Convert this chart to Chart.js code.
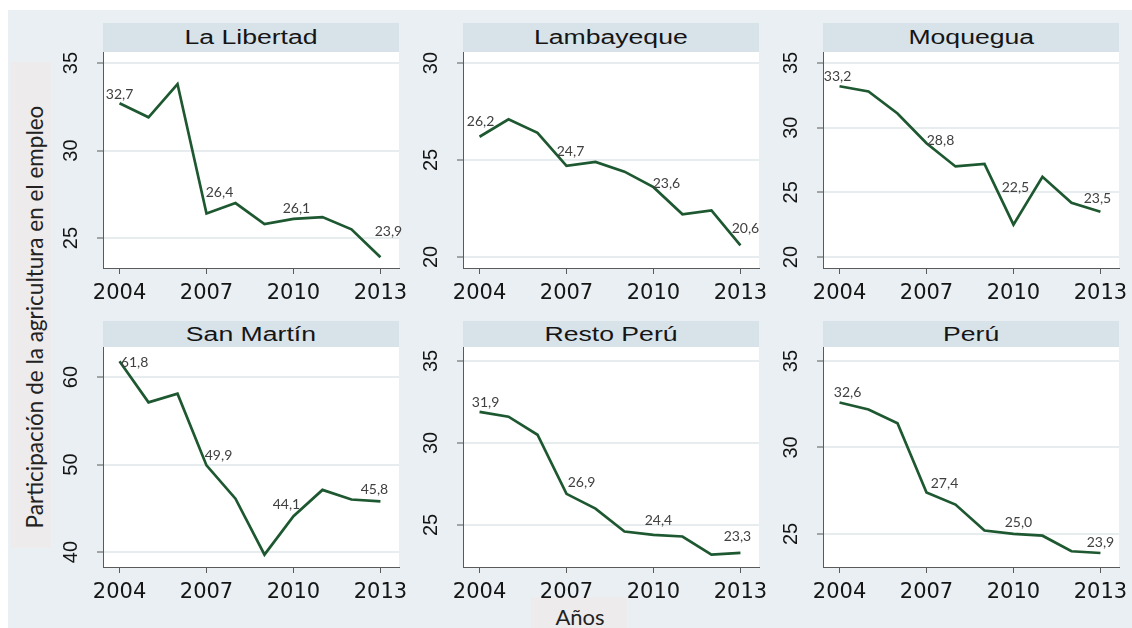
<!DOCTYPE html>
<html>
<head>
<meta charset="utf-8">
<script src="https://cdn.jsdelivr.net/npm/chart.js@4.4.1/dist/chart.umd.min.js"></script>
<style>
  html, body { margin: 0; padding: 0; background: #ffffff; }
  #root { position: relative; width: 1132px; height: 628px; overflow: hidden; background: #ffffff; }
  #bg { position: absolute; left: 8px; top: 10px; width: 1124px; height: 618px; background: #e9eff2; }
  .strip { position: absolute; background: #d8e3e9; display: flex; align-items: center; justify-content: center;
           font-family: "Liberation Sans", Arial, sans-serif; font-size: 20px; color: #151515; }
  .strip span { display: inline-block; transform: scaleX(1.33); white-space: nowrap; }
  canvas { position: absolute; }
  #ybox { position: absolute; left: 11px; top: 62px; width: 40px; height: 486px; background: #eeebec; }
  #ytitle { position: absolute; width: 480px; height: 30px; left: -205px; top: 302px; transform: rotate(-90deg);
            text-align: center; line-height: 30px; font-family: Lato, "Open Sans", sans-serif; font-size: 22.5px; color: #222; white-space: nowrap; }
  #xbox { position: absolute; left: 531px; top: 597px; width: 96px; height: 31px; background: #eeebec; }
  #xtitle { position: absolute; left: 480px; top: 602px; width: 200px; height: 30px; text-align: center; line-height: 30px;
            font-family: Lato, "Open Sans", sans-serif; font-size: 22px; color: #222; }
</style>
</head>
<body>
<div id="root">
  <div id="bg"></div>
  <div id="ybox"></div>
  <div id="ytitle">Participación de la agricultura en el empleo</div>
  <div id="xbox"></div>
  <div id="xtitle">Años</div>
</div>
<script>
// ---------------- data ----------------
const years = [2004, 2005, 2006, 2007, 2008, 2009, 2010, 2011, 2012, 2013];
const xTickYears = [2004, 2007, 2010, 2013];
const labeledYears = [2004, 2007, 2010, 2013];

const laLibertad = [32.7, 31.9, 33.8, 26.4, 27.0, 25.8, 26.1, 26.2, 25.5, 23.9];
const lambayeque = [26.2, 27.1, 26.4, 24.7, 24.9, 24.4, 23.6, 22.2, 22.4, 20.6];
const moquegua   = [33.2, 32.8, 31.1, 28.8, 27.0, 27.2, 22.5, 26.2, 24.2, 23.5];
const sanMartin  = [61.8, 57.1, 58.1, 49.9, 46.1, 39.7, 44.1, 47.1, 46.0, 45.8];
const restoPeru  = [31.9, 31.6, 30.5, 26.9, 26.0, 24.6, 24.4, 24.3, 23.2, 23.3];
const peru       = [32.6, 32.2, 31.4, 27.4, 26.7, 25.2, 25.0, 24.9, 24.0, 23.9];

const ticksLaLibertad = [25, 30, 35];
const ticksLambayeque = [20, 25, 30];
const ticksMoquegua   = [20, 25, 30, 35];
const ticksSanMartin  = [40, 50, 60];
const ticksRestoPeru  = [25, 30, 35];
const ticksPeru       = [25, 30, 35];

// ---------------- layout / style ----------------
const colLeft = [103, 463, 823];
const plotW = 296;
const rows = [
  { stripTop: 23, plotTop: 52, plotH: 216 },
  { stripTop: 321, plotTop: 347, plotH: 220 }
];
const YW = 50, XH = 42, PADT = 10, PADR = 34;
const X_MIN = 2003.43, X_MAX = 2013.64;

const panels = [
  { title: 'La Libertad', values: laLibertad, ticks: ticksLaLibertad, col: 0, row: 0, yMin: 23.29, yMax: 35.63,
    nudges: [[0, -9], [13, -21], [3, -10], [8, -26]] },
  { title: 'Lambayeque', values: lambayeque, ticks: ticksLambayeque, col: 1, row: 0, yMin: 19.43, yMax: 30.57,
    nudges: [[1, -15], [4, -14], [13, -4], [5, -17]] },
  { title: 'Moquegua', values: moquegua, ticks: ticksMoquegua, col: 2, row: 0, yMin: 19.15, yMax: 35.85,
    nudges: [[-2, -10], [14, -3], [2, -37], [-3, -13]] },
  { title: 'San Martín', values: sanMartin, ticks: ticksSanMartin, col: 0, row: 1, yMin: 38.29, yMax: 63.43,
    nudges: [[15, 1], [12, -10], [-7, -12], [-6, -12]] },
  { title: 'Resto Perú', values: restoPeru, ticks: ticksRestoPeru, col: 1, row: 1, yMin: 22.44, yMax: 35.85,
    nudges: [[6, -9], [15, -11], [5, -14], [-3, -16]] },
  { title: 'Perú', values: peru, ticks: ticksPeru, col: 2, row: 1, yMin: 23.09, yMax: 35.81,
    nudges: [[8, -10], [18, -9], [5, -11], [0, -11]] }
];

const plotBg = {
  id: 'plotBg',
  beforeDraw(chart) {
    const a = chart.chartArea, c = chart.ctx;
    c.save(); c.fillStyle = '#ffffff'; c.fillRect(a.left, a.top, a.right - a.left, a.bottom - a.top); c.restore();
  }
};

const valueLabels = {
  id: 'valueLabels',
  afterDatasetsDraw(chart, args, opts) {
    const meta = chart.getDatasetMeta(0);
    const c = chart.ctx;
    c.save();
    c.font = '14px Lato, "Open Sans", sans-serif';
    c.fillStyle = '#404040';
    c.textAlign = 'center';
    c.textBaseline = 'middle';
    opts.years.forEach((yr, k) => {
      const i = years.indexOf(yr);
      const pt = meta.data[i];
      const v = opts.values[i];
      const d = opts.nudges[k];
      c.fillText(v.toFixed(1).replace('.', ','), pt.x + d[0], pt.y + d[1]);
    });
    c.restore();
  }
};

const root = document.getElementById('root');

panels.forEach(p => {
  const r = rows[p.row];
  const left = colLeft[p.col];

  const strip = document.createElement('div');
  strip.className = 'strip';
  strip.style.left = left + 'px';
  strip.style.top = r.stripTop + 'px';
  strip.style.width = plotW + 'px';
  strip.style.height = (r.plotTop - r.stripTop) + 'px';
  const sp = document.createElement('span');
  sp.textContent = p.title;
  strip.appendChild(sp);
  root.appendChild(strip);

  const cv = document.createElement('canvas');
  const W = YW + plotW + PADR, H = PADT + r.plotH + XH;
  cv.width = W; cv.height = H;
  cv.style.width = W + 'px'; cv.style.height = H + 'px';
  cv.style.left = (left - YW) + 'px';
  cv.style.top = (r.plotTop - PADT) + 'px';
  root.appendChild(cv);

  new Chart(cv, {
    type: 'line',
    data: {
      datasets: [{
        data: years.map((y, i) => ({ x: y, y: p.values[i] })),
        borderColor: '#1d5830',
        borderWidth: 2.7,
        pointRadius: 0,
        tension: 0,
        fill: false,
        clip: false
      }]
    },
    options: {
      responsive: false,
      animation: false,
      devicePixelRatio: 1,
      layout: { padding: { left: 0, top: PADT, right: PADR, bottom: 0 } },
      plugins: {
        legend: { display: false },
        tooltip: { enabled: false },
        valueLabels: { years: labeledYears, values: p.values, nudges: p.nudges }
      },
      scales: {
        x: {
          type: 'linear',
          min: X_MIN, max: X_MAX,
          afterBuildTicks: s => { s.ticks = xTickYears.map(v => ({ value: v })); },
          afterFit: s => { s.height = XH; s.paddingLeft = 0; s.paddingRight = 0; },
          grid: { drawOnChartArea: false, drawTicks: true, tickLength: 6, tickColor: '#5a5a5a', tickWidth: 1 },
          border: { display: true, color: '#5a5a5a', width: 1 },
          ticks: {
            font: { family: 'DejaVu Sans', size: 21 },
            color: '#151515', padding: 7, maxRotation: 0, minRotation: 0, autoSkip: false,
            callback: v => String(v)
          }
        },
        y: {
          type: 'linear',
          min: p.yMin, max: p.yMax,
          afterBuildTicks: s => { s.ticks = p.ticks.map(v => ({ value: v })); },
          afterFit: s => { s.width = YW; s.paddingTop = 0; s.paddingBottom = 0; },
          grid: { color: '#e7ecef', lineWidth: 2, drawTicks: true, tickLength: 6, tickColor: '#5a5a5a', tickWidth: 1 },
          border: { display: true, color: '#5a5a5a', width: 1 },
          ticks: {
            font: { family: '"Liberation Sans Narrow", "Liberation Sans", sans-serif', size: 20 },
            color: '#151515', minRotation: 90, maxRotation: 90, crossAlign: 'center', padding: 14, autoSkip: false,
            callback: v => String(v)
          }
        }
      }
    },
    plugins: [plotBg, valueLabels]
  });
});
</script>
</body>
</html>
